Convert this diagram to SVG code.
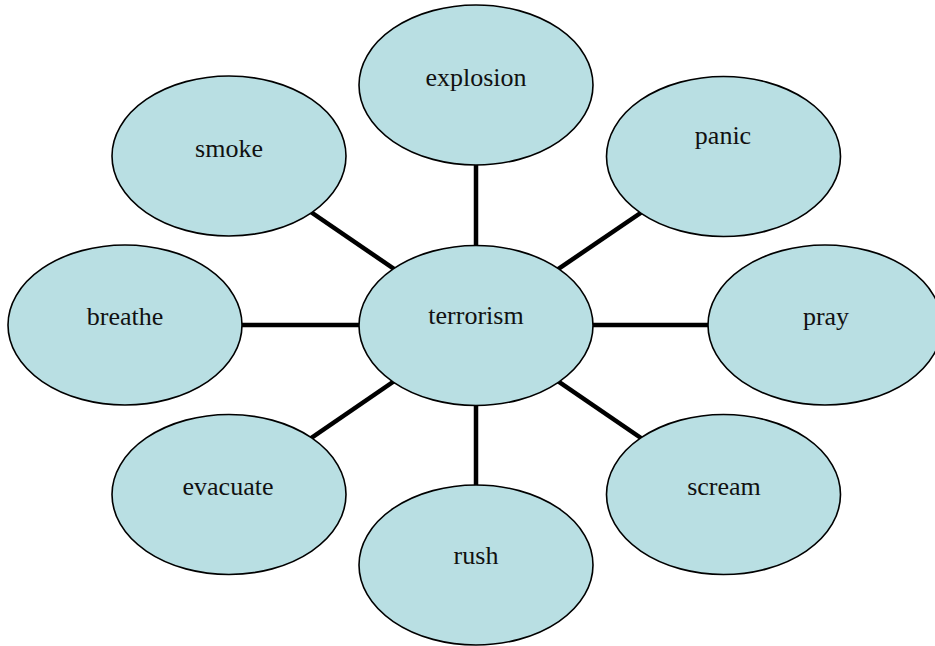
<svg xmlns="http://www.w3.org/2000/svg" width="935" height="646" viewBox="0 0 935 646">
<style>
.n{fill:#b9dfe3;stroke:#000;stroke-width:1.6}
.t{font-family:"Liberation Serif","Times New Roman",serif;font-size:26px;fill:#111;text-anchor:middle}
.c{stroke:#000;stroke-width:4.5}
</style>
<rect width="935" height="646" fill="#fff"/>
<g id="connectors">
<line class="c" x1="476" y1="325" x2="476" y2="85"/>
<line class="c" x1="476" y1="325" x2="229" y2="156"/>
<line class="c" x1="476" y1="325" x2="723.5" y2="156.5"/>
<line class="c" x1="476" y1="325" x2="125" y2="325"/>
<line class="c" x1="476" y1="325" x2="825" y2="325"/>
<line class="c" x1="476" y1="325" x2="229" y2="494.5"/>
<line class="c" x1="476" y1="325" x2="723.5" y2="494.5"/>
<line class="c" x1="476" y1="325" x2="476" y2="565"/>
</g>
<g id="explosion"><ellipse class="n" cx="476" cy="85" rx="117" ry="80"/><text class="t" x="476" y="86">explosion</text></g>
<g id="smoke"><ellipse class="n" cx="229" cy="156" rx="117" ry="80"/><text class="t" x="229" y="157">smoke</text></g>
<g id="panic"><ellipse class="n" cx="723.5" cy="156.5" rx="117" ry="80"/><text class="t" x="723" y="144">panic</text></g>
<g id="breathe"><ellipse class="n" cx="125" cy="325" rx="117" ry="80"/><text class="t" x="125" y="325">breathe</text></g>
<g id="terrorism"><ellipse class="n" cx="476" cy="325.5" rx="117" ry="80"/><text class="t" x="476" y="324">terrorism</text></g>
<g id="pray"><ellipse class="n" cx="825" cy="325" rx="117" ry="80"/><text class="t" x="826" y="325">pray</text></g>
<g id="evacuate"><ellipse class="n" cx="229" cy="494.5" rx="117" ry="80"/><text class="t" x="228" y="495">evacuate</text></g>
<g id="scream"><ellipse class="n" cx="723.5" cy="494.5" rx="117" ry="80"/><text class="t" x="724" y="495">scream</text></g>
<g id="rush"><ellipse class="n" cx="476" cy="565" rx="117" ry="80"/><text class="t" x="476" y="564">rush</text></g>
</svg>
